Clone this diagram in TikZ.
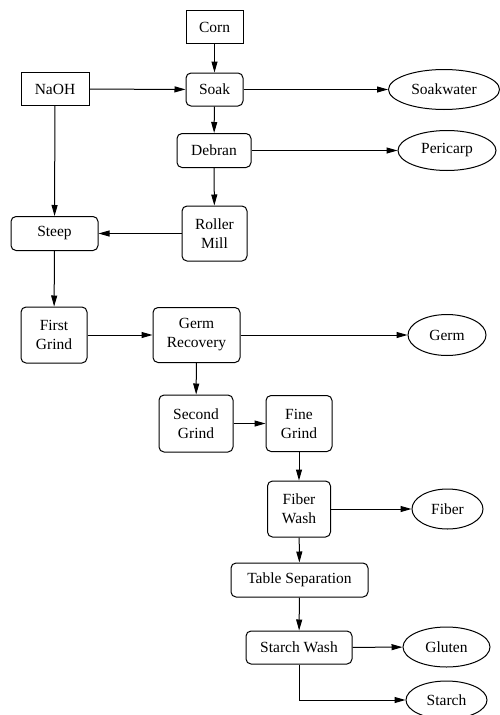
\documentclass[tikz,border=0pt]{standalone}
\usepackage{fontspec}
\setmainfont{Liberation Serif}
\usetikzlibrary{arrows.meta,shapes.geometric}
\begin{document}
\begin{tikzpicture}[x=1pt,y=-1pt,
  base/.style={draw,line width=1pt,inner sep=0pt,align=center,font=\fontsize{15.5}{19}\selectfont},
  sq/.style={base,rectangle},
  rb/.style={base,rectangle,rounded corners=5pt},
  ov/.style={base,ellipse},
  arr/.style={line width=1pt,-{Triangle[length=11pt,width=6pt]}}]
\useasboundingbox (0,0) rectangle (500,715);
\node[sq,minimum width=57pt,minimum height=33pt] (corn) at (214.5,27) {Corn};
\node[sq,minimum width=68pt,minimum height=33pt] (naoh) at (55,89) {NaOH};
\node[rb,minimum width=57pt,minimum height=33pt] (soak) at (214.5,89.5) {Soak};
\node[ov,minimum width=111pt,minimum height=40pt] (soakw) at (444,89.5) {Soakwater};
\node[rb,minimum width=74pt,minimum height=34pt] (debran) at (214,150.5) {Debran};
\node[ov,minimum width=98pt,minimum height=40pt] (peri) at (447,150.5) {Pericarp};
\node[rb,minimum width=65pt,minimum height=55pt] (roller) at (214.5,233.5) {Roller\\Mill};
\node[rb,minimum width=87pt,minimum height=34pt] (steep) at (54.5,233.5) {Steep};
\node[rb,minimum width=66pt,minimum height=56pt] (first) at (54,335) {First\\Grind};
\node[rb,minimum width=87pt,minimum height=55pt] (germrec) at (196.5,335) {Germ\\Recovery};
\node[ov,minimum width=78pt,minimum height=41pt] (germ) at (447,335) {Germ};
\node[rb,minimum width=74pt,minimum height=57pt] (second) at (196,423.5) {Second\\Grind};
\node[rb,minimum width=66pt,minimum height=56pt] (fine) at (299,423.5) {Fine\\Grind};
\node[rb,minimum width=63pt,minimum height=56pt] (fiberw) at (299,509) {Fiber\\Wash};
\node[ov,minimum width=71pt,minimum height=40pt] (fiber) at (447.5,509) {Fiber};
\node[rb,minimum width=137pt,minimum height=34pt] (table) at (299.5,580) {Table Separation};
\node[rb,minimum width=106pt,minimum height=33pt] (starchw) at (299,647.5) {Starch Wash};
\node[ov,minimum width=87pt,minimum height=40pt] (gluten) at (446.5,647) {Gluten};
\node[ov,minimum width=81pt,minimum height=38pt] (starch) at (446.5,700) {Starch};
\coordinate (bend) at (299,700);
\draw[arr] (corn) -- (soak);
\draw[arr] (naoh) -- (soak);
\draw[arr] (soak) -- (soakw);
\draw[arr] (soak) -- (debran);
\draw[arr] (debran) -- (peri);
\draw[arr] (debran) -- (roller);
\draw[arr] (roller) -- (steep);
\draw[arr] (naoh) -- (steep);
\draw[arr] (steep) -- (first);
\draw[arr] (first) -- (germrec);
\draw[arr] (germrec) -- (germ);
\draw[arr] (germrec) -- (second);
\draw[arr] (second) -- (fine);
\draw[arr] (fine) -- (fiberw);
\draw[arr] (fiberw) -- (fiber);
\draw[arr] (fiberw) -- (table);
\draw[arr] (table) -- (starchw);
\draw[arr] (starchw) -- (gluten);
\draw[arr] (starchw.south) -- (bend) -- (starch.west);
\end{tikzpicture}
\end{document}
